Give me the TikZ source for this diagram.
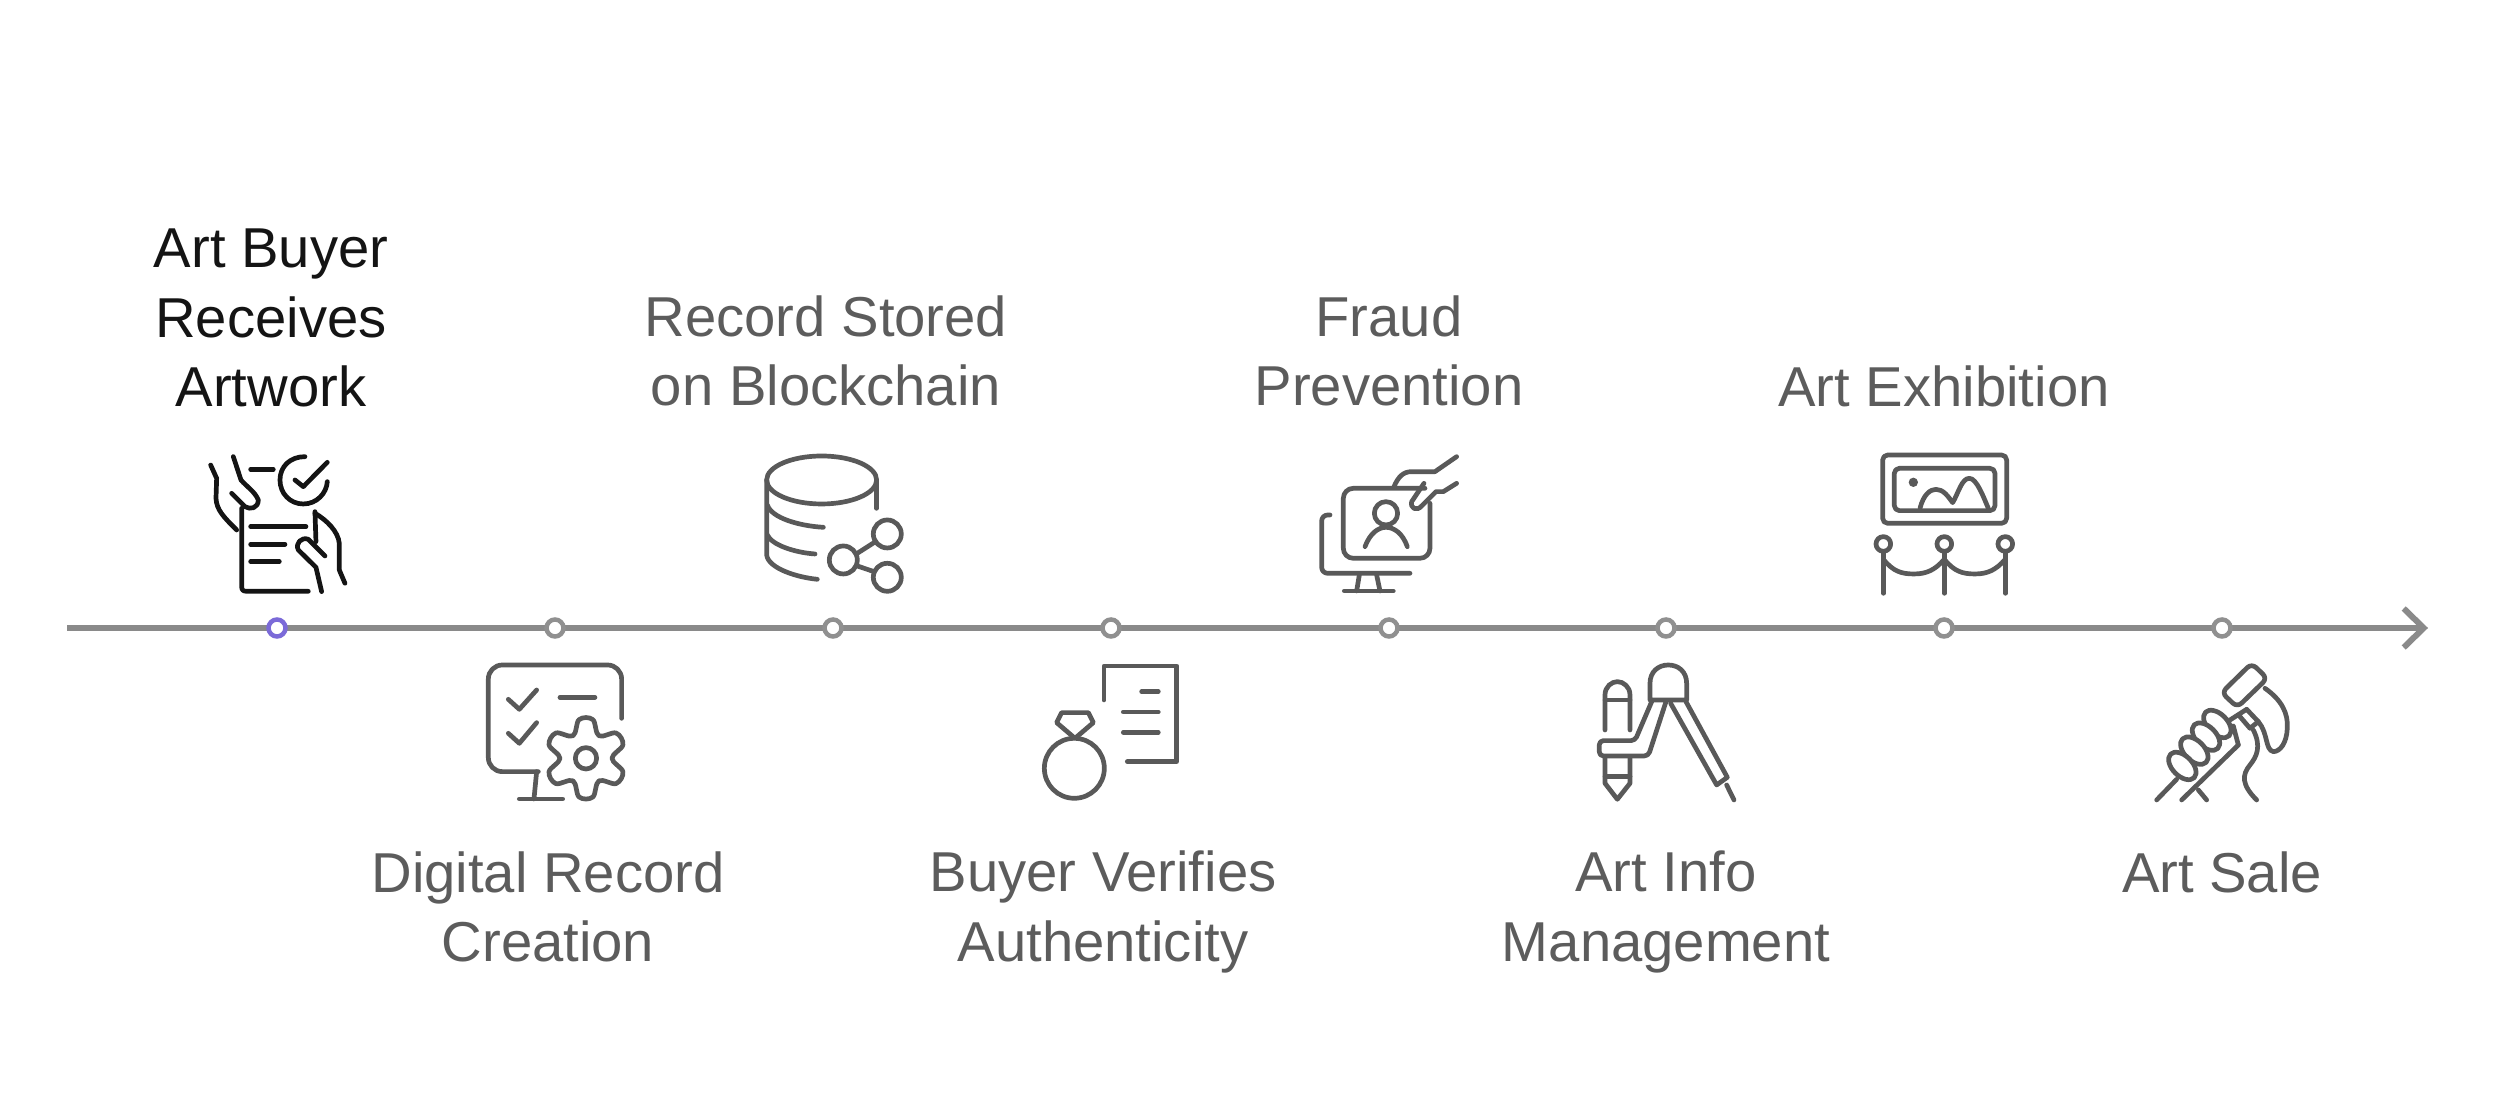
\documentclass[tikz,border=0pt]{standalone}
\usepackage{fontspec}
\setmainfont{Liberation Sans}
\usetikzlibrary{arrows.meta, positioning}
\definecolor{tlGrey}{HTML}{8A8A8A}
\definecolor{tlDot}{HTML}{909090}
\definecolor{tlViolet}{HTML}{7B6AD8}
\definecolor{tlText}{HTML}{5C5C5C}
\definecolor{tlIcon}{HTML}{595959}
\definecolor{tlBlack}{HTML}{141414}
\tikzset{
  axisline/.style  = {-{Straight Barb[length=2mm, width=3.9mm]}, tlGrey, line width=0.6mm},
  stepdot/.style   = {circle, draw=tlDot, fill=white, line width=0.45mm, minimum size=1.7mm, inner sep=0pt},
  activedot/.style = {stepdot, draw=tlViolet},
  lbl/.style       = {font=\fontsize{16}{19.8}\selectfont, text=tlText, align=center, inner sep=0pt},
  iconpart/.style  = {x=0.03333mm, y=-0.03333mm, line width=0.47mm, tlIcon, line cap=round, line join=round},
}
\begin{document}
\begin{tikzpicture}[x=0.1mm,y=-0.1mm]
  \useasboundingbox (0,0) rectangle (2500,1114);
  % time line
  \coordinate (axisstart) at (67,628);
  \coordinate (axisend) at (2428,628);
  \draw[axisline] (axisstart) -- (axisend);
  \node[activedot] (dot1) at (277,628) {};
  \foreach \n/\x in {2/555,3/833,4/1111,5/1389,6/1666,7/1944,8/2222}
    \node[stepdot] (dot\n) at (\x,628) {};
  % labels above the line
  \node[lbl, text=tlBlack] (buyerlbl) at (271,318) {Art Buyer\\Receives\\Artwork};
  \node[lbl] (recordlbl) at (826,351) {Record Stored\\on Blockchain};
  \node[lbl] (fraudlbl) at (1389,351) {Fraud\\Prevention};
  \node[lbl] (exhiblbl) at (1944,386) {Art Exhibition};
  % labels below the line
  \node[lbl] (digitallbl) at (548,907) {Digital Record\\Creation};
  \node[lbl] (verifylbl) at (1103,912) {Buyer Verifies\\Authenticity};
  \node[lbl] (infolbl) at (1666,912) {Art Info\\Management};
  \node[lbl] (salelbl) at (2222,872) {Art Sale};
  % document held in two hands
  \begin{scope}[shift={(180,430)}, iconpart, tlBlack]
    \draw (92,105) -- (110,145) -- (108,205) .. controls (110,240) and (130,260) .. (170,300);
    \draw (160,80) -- (183,150) .. controls (200,170) and (225,185) .. (235,210)
      .. controls (235,235) and (210,240) .. (195,230) -- (155,190);
    \draw (185,235) -- (185,470) .. controls (185,480) and (190,484) .. (200,484) -- (385,484);
    \draw (212,118) -- (280,118);
    \draw (375,80) .. controls (330,80) and (300,110) .. (300,150)
      .. controls (300,190) and (330,222) .. (370,222)
      .. controls (410,222) and (440,190) .. (442,155);
    \draw (345,150) -- (370,170) -- (442,97);
    \draw (212,290) -- (378,290);
    \draw (212,343) -- (315,343);
    \draw (212,395) -- (298,395);
    \draw (405,245) -- (408,335);
    \draw (405,250) .. controls (440,270) and (475,305) .. (478,340) -- (478,420) -- (495,460);
    \draw (435,378) -- (385,328) .. controls (365,320) and (345,340) .. (355,360)
      -- (408,412) -- (425,485);
  \end{scope}
  % monitor with gear
  \begin{scope}[shift={(460,640)}, iconpart]
    \draw[rounded corners=1.4mm] (485,235) -- (485,75) -- (85,75) -- (85,395) -- (235,395);
    \draw (230,395) -- (222,477);
    \draw (178,477) -- (308,477);
    \draw (145,178) -- (178,208) -- (230,150);
    \draw (145,280) -- (178,310) -- (230,248);
    \draw (300,172) -- (405,172);
    \draw[shift={(378,355)}] plot[smooth cycle, tension=0.6] coordinates {
      (20:118) (40:118) (60:78) (80:118) (100:118) (120:78)
      (140:118) (160:118) (180:78) (200:118) (220:118) (240:78)
      (260:118) (280:118) (300:78) (320:118) (340:118) (360:78)};
    \draw (378,355) circle [radius=32];
  \end{scope}
  % database with share symbol
  \begin{scope}[shift={(740,440)}, iconpart]
    \draw (245,120) ellipse [x radius=165, y radius=72];
    \draw (80,120) -- (80,345) .. controls (85,385) and (170,412) .. (232,418);
    \draw (410,125) -- (410,205);
    \draw (82,195) .. controls (95,235) and (180,258) .. (250,262);
    \draw (82,285) .. controls (95,315) and (165,338) .. (225,342);
    \draw (310,360) circle [radius=42];
    \draw (442,282) circle [radius=42];
    \draw (442,412) circle [radius=42];
    \draw (352,340) -- (402,308);
    \draw (352,378) -- (402,395);
  \end{scope}
  % ring and certificate
  \begin{scope}[shift={(1020,640)}, iconpart]
    \draw (252,180) -- (252,78) -- (470,78) -- (470,365) -- (322,365);
    \draw (365,155) -- (415,155);
    \draw (310,216) -- (415,216);
    \draw (310,277) -- (415,277);
    \draw (163,385) circle [radius=90];
    \draw (125,218) -- (205,218) -- (220,248) -- (165,295) -- (110,248) -- cycle;
  \end{scope}
  % hand on a screen with person
  \begin{scope}[shift={(1300,440)}, iconpart]
    \draw[rounded corners=1mm] (375,145) -- (130,145) -- (130,355) -- (390,355) -- (390,190);
    \draw (258,220) circle [radius=35];
    \draw (195,320) .. controls (210,280) and (235,262) .. (258,262)
      .. controls (282,262) and (308,280) .. (322,320);
    \draw[rounded corners=0.6mm] (90,225) -- (65,225) -- (65,400) -- (330,400);
    \draw (178,405) -- (170,453);
    \draw (230,405) -- (240,453);
    \draw (133,453) -- (280,453);
    \draw (282,140) .. controls (295,110) and (310,95) .. (335,95) -- (405,95) -- (470,50);
    \draw (372,130) -- (335,185) .. controls (330,205) and (350,215) .. (365,198)
      -- (408,155) -- (430,155) -- (470,130);
  \end{scope}
  % compass and pencil
  \begin{scope}[shift={(1580,650)}, iconpart]
    \draw (210,150) -- (210,100) .. controls (210,65) and (235,45) .. (265,45)
      .. controls (295,45) and (320,65) .. (320,100) -- (320,150) -- cycle;
    \draw[rounded corners=0.4mm] (215,155) -- (165,272) -- (58,272) -- (58,318) -- (205,318) -- (258,155);
    \draw (272,160) -- (410,405) -- (442,382) -- (318,155);
    \draw (440,405) -- (462,450);
    \draw (75,240) -- (75,135) .. controls (75,110) and (95,95) .. (112,95)
      .. controls (130,95) and (150,110) .. (150,135) -- (150,240);
    \draw (75,150) -- (150,150);
    \draw (75,320) -- (75,400) -- (112,448) -- (150,400) -- (150,320);
    \draw (75,380) -- (150,380);
  \end{scope}
  % framed picture behind rope barrier
  \begin{scope}[shift={(1860,440)}, iconpart]
    \draw[rounded corners=0.5mm] (68,45) rectangle (440,250);
    \draw[rounded corners=0.5mm] (103,85) rectangle (405,212);
    \fill (160,127) circle [radius=14];
    \draw (180,205) .. controls (190,165) and (210,148) .. (228,148)
      .. controls (250,148) and (265,170) .. (278,188)
      .. controls (295,160) and (305,115) .. (328,115)
      .. controls (350,115) and (370,170) .. (385,205);
    \foreach \x in {70,253,436} {
      \draw (\x,312) circle [radius=22];
      \draw (\x,335) -- (\x,460);
    }
    \draw (70,358) .. controls (100,395) and (125,402) .. (162,402)
      .. controls (200,402) and (225,390) .. (253,358);
    \draw (253,358) .. controls (283,395) and (308,402) .. (345,402)
      .. controls (383,402) and (408,390) .. (436,358);
  \end{scope}
  % fist gripping a hammer
  \begin{scope}[shift={(2140,650)}, iconpart]
    \draw[rounded corners=0.6mm] (335,40) -- (382,85) -- (292,172) -- (245,128) -- cycle;
    \draw (375,115) .. controls (425,150) and (445,190) .. (442,235)
      .. controls (440,280) and (420,305) .. (400,305)
      .. controls (375,300) and (385,250) .. (355,215) -- (320,178);
    \foreach \x/\y in {232/222,198/260,163/302,127/348}
      \draw[fill=white] (\x,\y) ellipse [x radius=50, y radius=30, rotate=-45];
    \draw (50,450) -- (110,388);
    \draw (125,450) -- (295,285);
    \draw (175,420) -- (200,450);
    \draw (270,210) -- (320,178);
    \draw (300,200) -- (330,235) -- (355,215);
    \draw (280,228) -- (295,285);
    \draw (340,240) .. controls (365,290) and (350,320) .. (330,345)
      .. controls (305,375) and (305,405) .. (350,450);
  \end{scope}
\end{tikzpicture}
\end{document}
